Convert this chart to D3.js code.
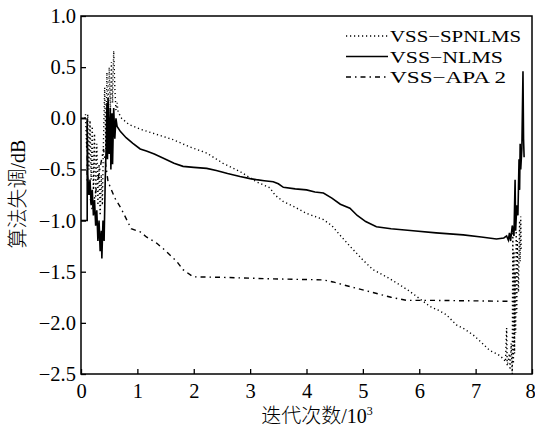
<!DOCTYPE html>
<html>
  <head>
    <meta charset="utf-8">
    <title>VSS misadjustment chart</title>
    <script src="https://d3js.org/d3.v7.min.js"></script>
    <style>
      body { margin: 0; background: #fff; }
      text { font-family: "Liberation Serif", "Noto Sans CJK SC", serif; fill: #000; }
    </style>
  </head>
  <body>
    <div id="chart"></div>
    <script>
      // 坐标轴刻度
      var xTicks = [0, 1, 2, 3, 4, 5, 6, 7, 8];
      var yTicks = [1.0, 0.5, 0.0, -0.5, -1.0, -1.5, -2.0, -2.5];
      var seriesNames = ["VSS-SPNLMS", "VSS-NLMS", "VSS-APA 2"];

      // VSS-SPNLMS (点线)
      var spnlms = [
        [0.07, 0.0], [0.08, 0.04], [0.10, -0.3], [0.12, 0.04], [0.14, -0.5], [0.16, -0.02], [0.18, -0.6],
        [0.20, -0.08], [0.22, -0.7], [0.24, -0.15], [0.26, -0.78], [0.28, -0.25], [0.30, -0.85], [0.32, -0.45],
        [0.34, -0.95], [0.36, -0.55], [0.38, -0.85], [0.40, -0.2], [0.42, 0.3], [0.44, -0.3], [0.46, 0.45],
        [0.48, -0.1], [0.50, 0.5], [0.52, 0.05], [0.54, 0.55], [0.56, 0.15], [0.58, 0.66], [0.60, 0.3],
        [0.62, 0.08], [0.64, 0.15], [0.66, 0.06], [0.72, 0.0], [0.85, -0.06], [1.07, -0.11], [1.3, -0.15],
        [1.64, -0.21], [1.93, -0.28], [2.23, -0.34], [2.52, -0.44], [2.82, -0.52], [3.11, -0.62], [3.35, -0.68],
        [3.44, -0.75], [3.59, -0.815], [3.8, -0.87], [4.0, -0.93], [4.3, -0.99], [4.45, -1.05], [4.59, -1.14],
        [4.77, -1.25], [5.0, -1.385], [5.18, -1.48], [5.3, -1.515], [5.45, -1.56], [5.6, -1.61], [5.8, -1.68],
        [5.95, -1.74], [6.19, -1.84], [6.35, -1.88], [6.48, -1.92], [6.66, -2.02], [6.8, -2.06], [6.96, -2.12],
        [7.1, -2.19], [7.25, -2.27], [7.4, -2.31], [7.49, -2.35], [7.53, -2.38], [7.55, -2.05], [7.56, -2.42],
        [7.6, -2.3], [7.61, -2.46], [7.63, -2.2], [7.65, -2.5], [7.66, -1.05], [7.67, -2.4], [7.68, -1.3],
        [7.69, -2.3], [7.7, -1.5], [7.71, -2.1], [7.72, -1.1], [7.73, -1.9], [7.74, -1.2], [7.76, -1.7],
        [7.78, -1.0], [7.79, -1.4], [7.8, -0.96], [7.81, -1.3]
      ];

      // VSS-NLMS (实线)
      var nlms = [
        [0, -1.0], [0.11, -1.0], [0.11, 0.0], [0.12, -0.55], [0.14, -0.75], [0.16, -0.6], [0.18, -0.85],
        [0.20, -0.7], [0.22, -0.95], [0.24, -0.8], [0.26, -1.05], [0.28, -0.9], [0.30, -1.2], [0.32, -1.0],
        [0.34, -1.3], [0.36, -1.1], [0.37, -1.37], [0.39, -1.0], [0.41, -1.2], [0.43, -0.6], [0.45, -0.2],
        [0.46, 0.15], [0.47, -0.4], [0.48, 0.2], [0.50, -0.35], [0.52, 0.1], [0.53, -0.5], [0.55, 0.05],
        [0.56, -0.45], [0.58, 0.1], [0.60, -0.2], [0.62, 0.0], [0.64, -0.08], [0.7, -0.13], [0.8, -0.19],
        [0.92, -0.245], [1.05, -0.3], [1.16, -0.32], [1.3, -0.35], [1.5, -0.4], [1.65, -0.44], [1.81, -0.47],
        [2.0, -0.48], [2.23, -0.49], [2.4, -0.51], [2.6, -0.54], [2.82, -0.57], [3.0, -0.59], [3.11, -0.6],
        [3.25, -0.61], [3.41, -0.62], [3.5, -0.64], [3.59, -0.675], [3.8, -0.69], [4.0, -0.7], [4.15, -0.72],
        [4.3, -0.73], [4.45, -0.78], [4.6, -0.84], [4.77, -0.88], [4.9, -0.95], [5.05, -1.01], [5.24, -1.06],
        [5.5, -1.08], [5.89, -1.1], [6.3, -1.12], [6.78, -1.14], [7.1, -1.16], [7.37, -1.18], [7.5, -1.17],
        [7.55, -1.15], [7.58, -1.19], [7.6, -1.12], [7.62, -1.2], [7.65, -1.05], [7.68, -1.15], [7.7, -0.6],
        [7.71, -1.1], [7.73, -0.85], [7.75, -0.95], [7.77, -0.4], [7.78, -0.7], [7.79, -0.25], [7.8, -0.5],
        [7.82, -0.3], [7.84, 0.46], [7.85, -0.2], [7.86, -0.38]
      ];

      // VSS-APA 2 (点划线)
      var apa = [
        [0, 0.0], [0.11, 0.0], [0.11, -0.6], [0.2, -0.9], [0.3, -0.6], [0.4, -0.3], [0.45, -0.5],
        [0.48, -0.62], [0.6, -0.78], [0.71, -0.88], [0.89, -1.08], [1.05, -1.11], [1.16, -1.16], [1.34, -1.22],
        [1.49, -1.29], [1.7, -1.4], [1.81, -1.48], [1.99, -1.55], [2.5, -1.555], [3.41, -1.57], [4.3, -1.58],
        [4.47, -1.6], [4.8, -1.65], [5.12, -1.695], [5.5, -1.75], [5.77, -1.78], [6.19, -1.78], [7.0, -1.785],
        [7.64, -1.79]
      ];

      var dashes = ["1.2,2.8", null, "5,4,1.5,4"];
      var widths = [1.4, 1.6, 1.4];

      var W = 535, H = 428;
      var margin = { top: 16, right: 3, bottom: 54, left: 81 };
      var width = W - margin.left - margin.right;
      var height = H - margin.top - margin.bottom;

      var svg = d3.select("#chart").append("svg")
        .attr("width", W)
        .attr("height", H)
        .append("g")
        .attr("transform", "translate(" + margin.left + "," + margin.top + ")");

      var x = d3.scaleLinear().domain([0, 8]).range([0, width]);
      var y = d3.scaleLinear().domain([-2.5, 1]).range([height, 0]);

      var line = d3.line().x(function (d) { return x(d[0]); }).y(function (d) { return y(d[1]); });

      svg.append("clipPath").attr("id", "clip")
        .append("rect").attr("width", width).attr("height", height);

      var plot = svg.append("g").attr("clip-path", "url(#clip)");
      [spnlms, nlms, apa].forEach(function (s, i) {
        plot.append("path")
          .datum(s)
          .attr("d", line)
          .attr("fill", "none")
          .attr("stroke", "#000")
          .attr("stroke-width", widths[i])
          .attr("stroke-dasharray", dashes[i]);
      });

      // 坐标轴 (刻度朝内)
      var fmt = function (d) { return d3.format(".1f")(d).replace("-", "\u2212"); };
      var xAxis = svg.append("g")
        .attr("transform", "translate(0," + height + ")")
        .call(d3.axisBottom(x).tickValues(xTicks).tickSize(-5).tickPadding(9).tickFormat(d3.format("d")));
      var yAxis = svg.append("g")
        .call(d3.axisLeft(y).tickValues(yTicks).tickSize(-5).tickPadding(5).tickFormat(fmt));
      [xAxis, yAxis].forEach(function (a) {
        a.select(".domain").remove();
        a.selectAll("line").attr("stroke", "#000").attr("stroke-width", 1.3);
        a.selectAll("text").attr("font-size", "20.5px").attr("font-family", "Liberation Serif");
      });
      xAxis.selectAll("text").attr("dy", "0.72em");
      // 最右侧的 "8" 往左挪一点，不被裁掉
      xAxis.selectAll(".tick").filter(function (d) { return d === 8; }).select("text").attr("dx", -2);

      svg.append("rect")
        .attr("width", width).attr("height", height)
        .attr("fill", "none").attr("stroke", "#000").attr("stroke-width", 1.5);

      // 图例
      var legendLen = [131, 113, 116];
      var legend = svg.append("g").attr("transform", "translate(" + (346 - margin.left) + "," + (36 - margin.top) + ")");
      seriesNames.forEach(function (name, i) {
        var g = legend.append("g").attr("transform", "translate(0," + (i * 20.5) + ")");
        g.append("line")
          .attr("x1", 0).attr("x2", 42).attr("y1", 0).attr("y2", 0)
          .attr("stroke", "#000").attr("stroke-width", widths[i])
          .attr("stroke-dasharray", dashes[i]);
        g.append("text")
          .attr("x", 44).attr("y", 6)
          .attr("font-size", "17.5px")
          .attr("textLength", legendLen[i])
          .attr("lengthAdjust", "spacingAndGlyphs")
          .text(name.replace("-", "\u2212"));
      });

      // 轴标题
      svg.append("text")
        .attr("x", 317 - margin.left).attr("y", 423 - margin.top)
        .attr("text-anchor", "middle")
        .attr("font-size", "20px")
        .attr("font-weight", 300)
        .html("迭代次数/10<tspan dy='-8' font-size='12px'>3</tspan>");

      svg.append("text")
        .attr("transform", "translate(" + (25 - margin.left) + "," + (194 - margin.top) + ") rotate(-90)")
        .attr("text-anchor", "middle")
        .attr("font-size", "20px")
        .attr("font-weight", 300)
        .text("算法失调/dB");
    </script>
  </body>
</html>
